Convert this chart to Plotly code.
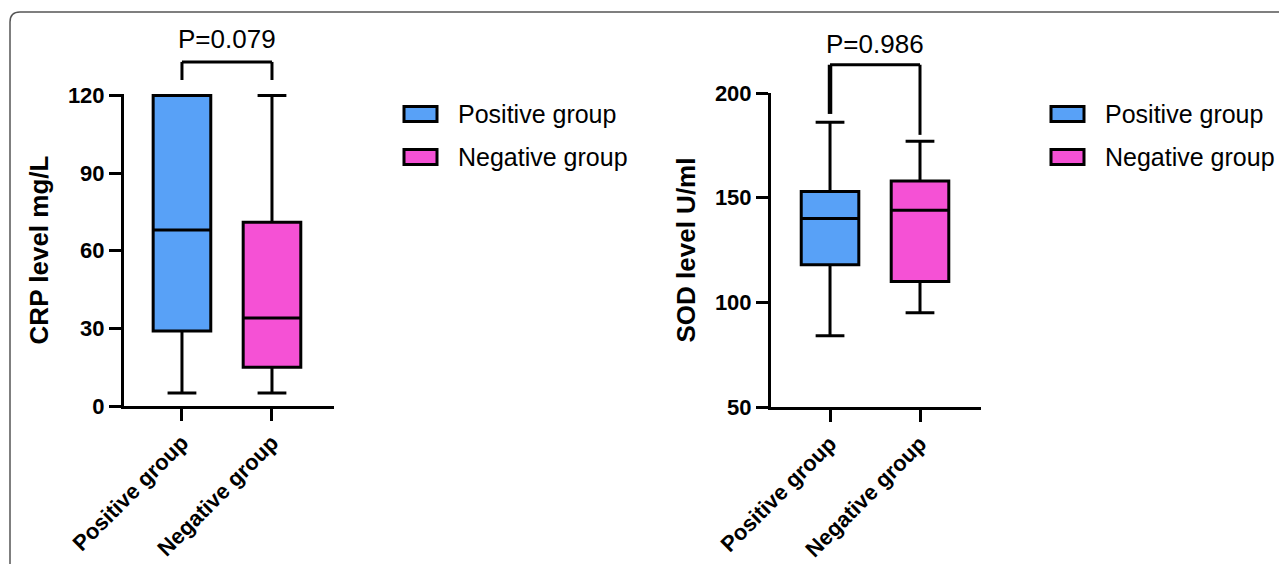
import plotly.graph_objects as go

W, H = 1287, 564
OFF = 8  # page body margin in the browser

# ---------------- data ----------------
groups = ["Positive group", "Negative group"]
fill_colors = ["#58A1F7", "#F551D5"]

crp_q1 = [29, 15]
crp_median = [68, 34]
crp_q3 = [120, 71]
crp_low = [5, 5]
crp_high = [120, 120]
crp_ticks = [0, 30, 60, 90, 120]
crp_title = "CRP level mg/L"
crp_p = "P=0.079"

sod_q1 = [118, 110]
sod_median = [140, 144]
sod_q3 = [153, 158]
sod_low = [84, 95]
sod_high = [186, 177]
sod_ticks = [50, 100, 150, 200]
sod_title = "SOD level U/ml"
sod_p = "P=0.986"

# ---------------- layout geometry (page pixels) ----------------
def fx(p):
    return (p - OFF) / W

def fy(p):
    return 1 - (p - OFF) / H

FONT = "Arial, Liberation Sans, sans-serif"
panels = [
    dict(xa="x", ya="y", q1=crp_q1, med=crp_median, q3=crp_q3, lo=crp_low, hi=crp_high,
         ticks=crp_ticks, yr=[0, 120.6], title=crp_title, p=crp_p,
         px=(124, 334), py=(94, 406), xr=[-0.644, 1.689],
         br_top=133, br_left=126, br_right=126, br_lw=(3, 3),
         p_y=142, leg_x=404),
    dict(xa="x2", ya="y2", q1=sod_q1, med=sod_median, q3=sod_q3, lo=sod_low, hi=sod_high,
         ticks=sod_ticks, yr=[50, 200], title=sod_title, p=sod_p,
         px=(771, 981), py=(93, 407), xr=[-0.656, 1.678],
         br_top=213.5, br_left=190, br_right=180, br_lw=(4.5, 3),
         p_y=223.5, leg_x=1051),
]

fig = go.Figure()
shapes = []
annotations = []

for k, pn in enumerate(panels):
    for i, g in enumerate(groups):
        fig.add_trace(go.Box(
            x=[g], q1=[pn["q1"][i]], median=[pn["med"][i]], q3=[pn["q3"][i]],
            lowerfence=[pn["lo"][i]], upperfence=[pn["hi"][i]],
            fillcolor=fill_colors[i], line=dict(color="black", width=3),
            width=0.64, whiskerwidth=0.5, boxpoints=False, name=g,
            showlegend=False, hoverinfo="skip",
            xaxis=pn["xa"], yaxis=pn["ya"],
        ))

    xkey = "xaxis" if pn["xa"] == "x" else "xaxis2"
    ykey = "yaxis" if pn["ya"] == "y" else "yaxis2"
    y0, y1 = pn["yr"]
    fig.update_layout(**{
        xkey: dict(
            domain=[fx(pn["px"][0]), fx(pn["px"][1])], range=pn["xr"],
            type="category", categoryorder="array", categoryarray=groups,
            showline=True, linewidth=3, linecolor="black",
            ticks="outside", ticklen=12, tickwidth=3, tickcolor="black",
            tickangle=-45, tickfont=dict(family=FONT, size=22, color="black", weight="bold"),
            showgrid=False, zeroline=False, anchor=pn["ya"], fixedrange=True,
            automargin=False,
        ),
        ykey: dict(
            domain=[fy(pn["py"][1]), fy(pn["py"][0])], range=pn["yr"],
            tickvals=pn["ticks"], ticktext=[str(t) for t in pn["ticks"]],
            showline=True, linewidth=3, linecolor="black",
            ticks="outside", ticklen=12, tickwidth=3, tickcolor="black",
            tickfont=dict(family=FONT, size=22, color="black", weight="bold"),
            title=dict(text=pn["title"], standoff=12,
                       font=dict(family=FONT, size=26, color="black", weight="bold")),
            showgrid=False, zeroline=False, anchor=pn["xa"], fixedrange=True,
            automargin=False,
        ),
    })

    # significance bracket
    yd = pn["ya"] + " domain"
    def frac(v, y0=y0, y1=y1):
        return (v - y0) / (y1 - y0)
    shapes.append(dict(type="line", xref=pn["xa"], yref=yd, x0=groups[0], x1=groups[1],
                       y0=frac(pn["br_top"]), y1=frac(pn["br_top"]),
                       line=dict(color="black", width=3)))
    shapes.append(dict(type="line", xref=pn["xa"], yref=yd, x0=groups[0], x1=groups[0],
                       y0=frac(pn["br_top"]), y1=frac(pn["br_left"]),
                       line=dict(color="black", width=pn["br_lw"][0])))
    shapes.append(dict(type="line", xref=pn["xa"], yref=yd, x0=groups[1], x1=groups[1],
                       y0=frac(pn["br_top"]), y1=frac(pn["br_right"]),
                       line=dict(color="black", width=pn["br_lw"][1])))
    annotations.append(dict(xref=pn["xa"], yref=yd, x=0.5, y=frac(pn["p_y"]),
                            text=pn["p"], showarrow=False, xanchor="center", yanchor="middle",
                            font=dict(family=FONT, size=26, color="black")))

    # legend (drawn manually to match swatch size)
    for i, g in enumerate(groups):
        cy = 114 + 43 * i
        lx = pn["leg_x"]
        shapes.append(dict(type="rect", xref="paper", yref="paper",
                           x0=fx(lx), x1=fx(lx + 33),
                           y0=fy(cy + 7.5), y1=fy(cy - 7.5),
                           fillcolor=fill_colors[i], line=dict(color="black", width=3)))
        annotations.append(dict(xref="paper", yref="paper", x=fx(lx + 52), y=fy(cy),
                                text=g, showarrow=False, xanchor="left", yanchor="middle",
                                font=dict(family=FONT, size=25, color="black")))

# outer rounded frame (cropped panel border)
r = 10
bx, by = 10, 12
path = (f"M {fx(bx)},{-0.1} L {fx(bx)},{fy(by + r)} "
        f"Q {fx(bx)},{fy(by)} {fx(bx + r)},{fy(by)} L 1.1,{fy(by)}")
shapes.append(dict(type="path", xref="paper", yref="paper", path=path,
                   line=dict(color="#555555", width=1.5)))

fig.update_layout(
    width=W, height=H, margin=dict(l=0, r=0, t=0, b=0, autoexpand=False),
    paper_bgcolor="white", plot_bgcolor="white",
    boxmode="overlay", showlegend=False,
    shapes=shapes, annotations=annotations,
    font=dict(family=FONT, color="black"),
)

fig.write_html("out.html")
